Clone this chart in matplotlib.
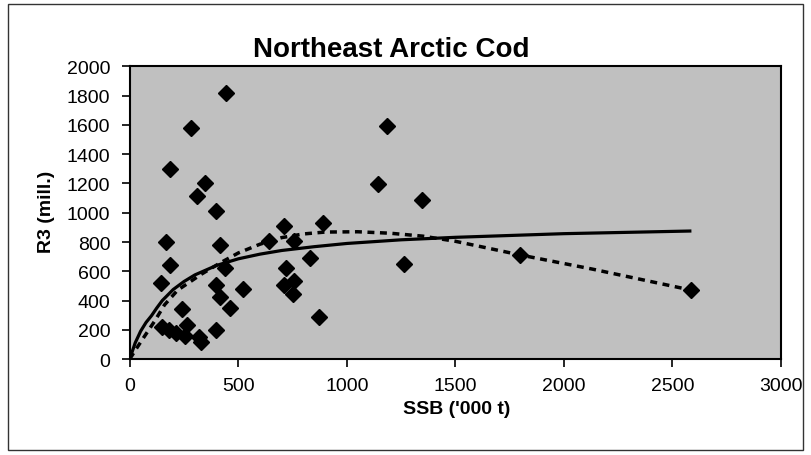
import matplotlib
matplotlib.use("Agg")
import matplotlib.pyplot as plt
from matplotlib.patches import Rectangle

plt.rcParams["font.family"] = ["Liberation Sans", "DejaVu Sans"]

ssb = [442, 280, 187, 346, 312, 399, 709, 888, 166, 418,
       641, 757, 184, 440, 828, 720, 146, 399, 522, 712,
       756, 754, 417, 240, 460, 874, 150, 180, 215, 262,
       255, 320, 330, 395, 1186, 1144, 1347, 1264, 1797, 2584]
r3 = [1817, 1581, 1299, 1201, 1116, 1014, 911, 930, 802, 779,
      806, 805, 644, 620, 688, 620, 520, 505, 478, 503,
      535, 443, 422, 343, 350, 289, 220, 200, 175, 230,
      160, 150, 115, 195, 1595, 1196, 1087, 651, 711, 473]

# fitted curves
solid_ssb = [0, 10, 25, 50, 75, 100, 125, 150, 200, 250, 300, 400, 500, 600,
             700, 850, 1000, 1250, 1500, 2000, 2580]
solid_r3 = [0, 45, 110, 190, 250, 296, 350, 400, 475, 530, 575, 640, 685, 717,
            742, 768, 790, 815, 832, 857, 875]

dash_ssb = [0, 30, 70, 115, 160, 220, 330, 420, 500, 600, 700, 800, 900, 1050,
            1200, 1350, 1500, 1800, 2130, 2580]
dash_r3 = [0, 70, 160, 260, 370, 470, 580, 660, 725, 785, 830, 855, 868, 870,
           860, 840, 805, 711, 615, 473]

fig = plt.figure(figsize=(8.11, 4.56), dpi=100)
fig.patches.append(Rectangle((0.01, 0.012), 0.98, 0.976, transform=fig.transFigure,
                             fill=False, lw=1, edgecolor="#333333"))

ax = fig.add_axes([0.160, 0.2105, 0.803, 0.6415])
ax.set_facecolor("#c0c0c0")

ax.plot(solid_ssb, solid_r3, color="black", lw=2.3, zorder=2)
ax.plot(dash_ssb, dash_r3, color="black", lw=2.5, linestyle=(0, (2, 1.6)), zorder=2)
ax.plot(ssb, r3, linestyle="none", marker="D", ms=8.5, color="black", zorder=3)

ax.set_xlim(0, 3000)
ax.set_ylim(0, 2000)
ax.set_xticks(range(0, 3001, 500))
ax.set_yticks(range(0, 2001, 200))
ax.tick_params(axis="both", direction="out", length=6, width=1.2, labelsize=14)
ax.tick_params(axis="y", pad=8)
ax.tick_params(axis="x", pad=7)
for s in ax.spines.values():
    s.set_linewidth(1.5)

fig.text(0.482, 0.89, "Northeast Arctic Cod", ha="center", va="center",
         fontsize=20, fontweight="bold")
fig.text(0.057, 0.535, "R3 (mill.)", ha="center", va="center", rotation=90,
         fontsize=14, fontweight="bold")
fig.text(0.563, 0.101, "SSB ('000 t)", ha="center", va="center",
         fontsize=14, fontweight="bold")

fig.savefig("out.png", dpi=100)
print("done")
